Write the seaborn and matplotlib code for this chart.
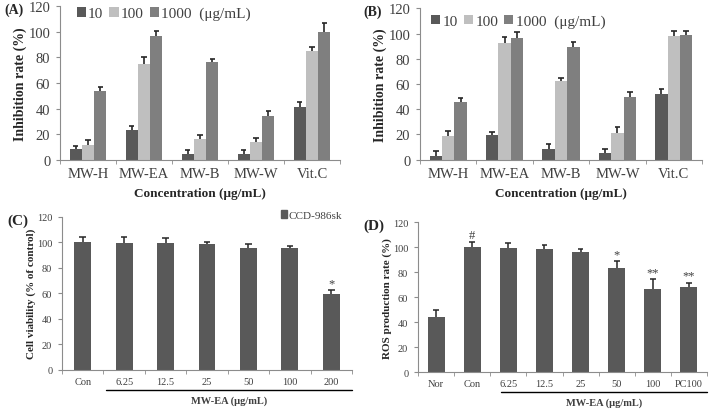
import numpy as np
import pandas as pd
import matplotlib
matplotlib.use("Agg")
import matplotlib.pyplot as plt
import matplotlib.transforms as mtransforms
from matplotlib.patches import Patch
import seaborn as sns

# ---- data ----
extracts = ["MW-H", "MW-EA", "MW-B", "MW-W", "Vit.C"]
doses = ["10", "100", "1000"]

# panel A (rows = dose, columns = extract)
a_vals = [[8.2, 23.0, 5.0, 4.9, 41.0],
          [12.0, 75.0, 16.0, 13.9, 84.8],
          [53.6, 96.7, 76.0, 34.0, 99.5]]
a_errs = [[2.5, 3.3, 2.8, 2.8, 4.4],
          [3.9, 4.9, 3.3, 3.0, 3.6],
          [3.4, 4.1, 2.6, 3.9, 7.0]]

# panel B
b_vals = [[3.2, 19.6, 8.5, 5.3, 52.0],
          [19.0, 92.8, 62.0, 21.0, 98.2],
          [46.1, 96.8, 89.7, 49.9, 99.2]]
b_errs = [[4.0, 2.7, 3.7, 3.0, 4.2],
          [3.4, 4.2, 2.7, 4.6, 4.2],
          [2.7, 4.2, 3.7, 3.7, 3.2]]

# panel C
c_labels = ["Con", "6.25", "12.5", "25", "50", "100", "200"]
c_vals = [100.0, 99.5, 99.0, 98.2, 95.5, 95.5, 59.5]
c_errs = [4.4, 4.4, 4.0, 2.3, 2.7, 1.4, 2.7]
c_marks = ["", "", "", "", "", "", "*"]

# panel D
d_labels = ["Nor", "Con", "6.25", "12.5", "25", "50", "100", "PC100"]
d_vals = [44.5, 100.2, 99.5, 98.4, 96.0, 83.4, 66.9, 68.2]
d_errs = [5.0, 3.8, 3.7, 3.6, 2.6, 5.4, 7.5, 3.5]
d_marks = ["", "#", "", "", "", "*", "**", "**"]

dose_colors = ["#595959", "#bfbfbf", "#7f7f7f"]
bar_dark = "#595959"
axis_gray = "#8c8c8c"
text_gray = "#404040"
err_color = "#262626"

sns.set_style("ticks")
plt.rcParams["font.family"] = ["Liberation Serif", "DejaVu Serif"]

fig = plt.figure(figsize=(7.23, 4.10), dpi=100)
W, H = 723.0, 410.0


def add_ax(left, right, bottom, top):
    return fig.add_axes([left / W, (H - bottom) / H, (right - left) / W, (bottom - top) / H])


def up_errors(ax, xs, hs, errs, cap, lw):
    # one-sided (upward) error bars with a cap, like the Excel originals
    tops = np.asarray(hs) + np.asarray(errs)
    ax.vlines(xs, hs, tops, color=err_color, lw=lw, zorder=3)
    ax.hlines(tops, np.asarray(xs) - cap, np.asarray(xs) + cap, color=err_color, lw=lw, zorder=3)


def style_axis(ax, n, fs):
    sns.despine(ax=ax)
    for s in ("left", "bottom"):
        ax.spines[s].set_color(axis_gray)
        ax.spines[s].set_linewidth(0.8)
    ax.set_xlim(-0.5, n - 0.5)
    ax.set_ylim(0, 120)
    ax.set_yticks(range(0, 121, 20))
    ax.set_xticks(range(n))
    ax.set_xticks(np.arange(-0.5, n, 1.0), minor=True)
    ax.tick_params(axis="x", which="major", length=0, labelsize=fs, colors=text_gray, pad=5)
    ax.tick_params(axis="x", which="minor", length=3, color=axis_gray, direction="out")
    ax.tick_params(axis="y", length=3, color=axis_gray, labelsize=fs, labelcolor=text_gray, pad=4)
    ax.set_xlabel("")


def grouped_panel(ax, vals, errs, tag, ylabel, leg_xy):
    df = pd.DataFrame({
        "extract": np.tile(extracts, len(doses)),
        "dose": np.repeat(doses, len(extracts)),
        "value": np.ravel(vals),
    })
    sns.barplot(data=df, x="extract", y="value", hue="dose", order=extracts,
                hue_order=doses, palette=dose_colors, width=0.66, saturation=1,
                edgecolor="none", ax=ax)
    for cont, err in zip(ax.containers, errs):
        xs = [p.get_x() + p.get_width() / 2 for p in cont]
        hs = [p.get_height() for p in cont]
        up_errors(ax, xs, hs, err, 0.05, 1.2)
    style_axis(ax, len(extracts), 10.5)
    ax.set_ylabel(ylabel, fontsize=10, fontweight="bold", labelpad=1)
    ax.set_xlabel("Concentration (μg/mL)", fontsize=9.5, fontweight="bold", labelpad=5)
    handles, labels = ax.get_legend_handles_labels()
    labels = labels[:2] + [labels[2] + "  (μg/mL)"]
    ax.legend(handles, labels, loc="center left", bbox_to_anchor=leg_xy, ncol=3,
              frameon=False, fontsize=11, handlelength=0.6, handleheight=0.6,
              handletextpad=0.15, columnspacing=0.4, labelcolor=text_gray)
    ax.text(-0.2, 0.98, tag, transform=ax.transAxes, fontsize=10, fontweight="bold",
            va="center", ha="left")


def single_panel(ax, labels, vals, errs, marks, tag, ylabel, width, line_from, legend=None):
    df = pd.DataFrame({"group": labels, "value": vals})
    sns.barplot(data=df, x="group", y="value", order=labels, color=bar_dark,
                saturation=1, width=width, edgecolor="none", ax=ax)
    xs = np.arange(len(labels))
    up_errors(ax, xs, vals, errs, 0.08, 1.1)
    for x, v, e, m in zip(xs, vals, errs, marks):
        if m:
            ax.text(x, v + e + 1.0, m, ha="center", va="bottom", fontsize=9, color=text_gray)
    style_axis(ax, len(labels), 7.5)
    ax.set_ylabel(ylabel, fontsize=8, fontweight="bold", labelpad=1)
    trans = mtransforms.blended_transform_factory(ax.transData, ax.transAxes)
    ax.plot([line_from, len(labels) - 0.5], [-0.13, -0.13], color="black", lw=1.0,
            transform=trans, clip_on=False)
    ax.text((line_from + len(labels) - 0.5) / 2, -0.2, "MW-EA (μg/mL)", transform=trans,
            ha="center", va="center", fontsize=7.5, fontweight="bold", color=text_gray)
    if legend:
        ax.legend([Patch(color=bar_dark)], [legend], loc="center right",
                  bbox_to_anchor=(1.0, 1.01), frameon=False, fontsize=8,
                  handlelength=0.6, handleheight=0.6, handletextpad=0.1, labelcolor=text_gray)
    ax.text(-0.19, 0.98, tag, transform=ax.transAxes, fontsize=11, fontweight="bold",
            va="center", ha="left")


ax_a = add_ax(60, 340, 161, 7)
grouped_panel(ax_a, a_vals, a_errs, "(A)", "Inhibition rate (%)", (0.01, 0.95))

ax_b = add_ax(420, 702, 160.7, 9.3)
grouped_panel(ax_b, b_vals, b_errs, "(B)", "Inhibition rate (%)", (-0.01, 0.915))

ax_c = add_ax(62, 352, 370.7, 217.7)
single_panel(ax_c, c_labels, c_vals, c_errs, c_marks, "(C)", "Cell viability (% of control)",
             0.41, 0.55, legend="CCD-986sk")

ax_d = add_ax(418, 707, 373.3, 223.3)
single_panel(ax_d, d_labels, d_vals, d_errs, d_marks, "(D)", "ROS production rate (%)",
             0.47, 1.8)

fig.savefig("out.png", dpi=100)
